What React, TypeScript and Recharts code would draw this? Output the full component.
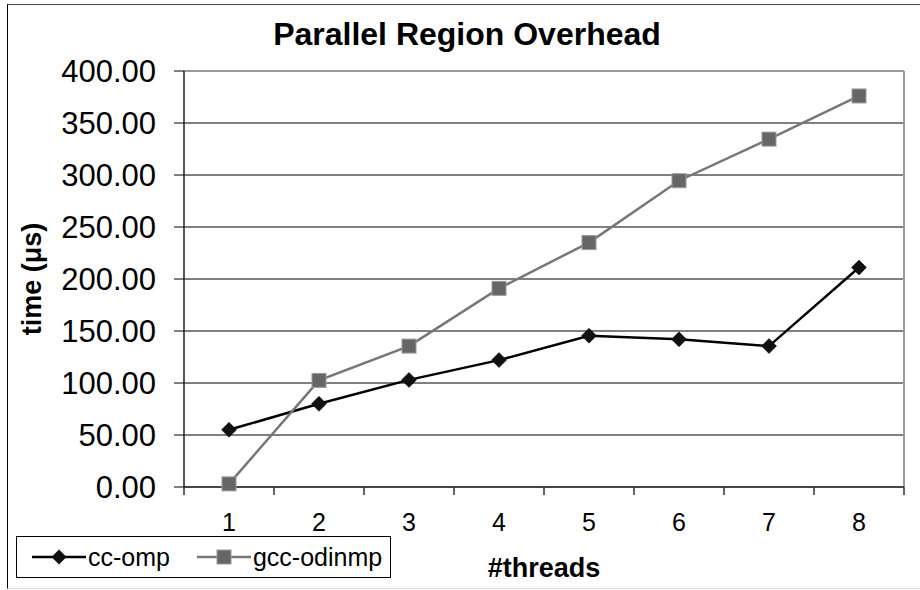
import React from "react";
import {
  LineChart,
  Line,
  XAxis,
  YAxis,
  CartesianGrid,
  ReferenceLine,
  Legend,
  Label,
} from "recharts";

const THREADS = [1, 2, 3, 4, 5, 6, 7, 8];
const CC_OMP = [55, 80, 103, 122, 145.5, 142, 135.5, 211];
const GCC_ODINMP = [3, 102.5, 135.5, 191, 235, 294.5, 334.5, 376];
const Y_TICKS = [0, 50, 100, 150, 200, 250, 300, 350, 400];

const data = THREADS.map((t, i) => ({
  threads: t,
  ccOmp: CC_OMP[i],
  gccOdinmp: GCC_ODINMP[i],
}));

// tick list: category boundaries (tick marks) plus centres (labels)
const xTicks = [THREADS[0] - 0.5];
THREADS.forEach((t) => xTicks.push(t, t + 0.5));

const FONT = "'Liberation Sans', Arial, Helvetica, sans-serif";
const CC_COLOR = "#000000";
const GCC_COLOR = "#777777";

function DiamondDot(props: any) {
  const { cx, cy, index } = props;
  if (cx == null || cy == null) return <g key={index} />;
  const r = 7.5;
  return (
    <path
      key={index}
      d={`M${cx},${cy - r}L${cx + r},${cy}L${cx},${cy + r}L${cx - r},${cy}Z`}
      fill="#111"
      stroke="#000"
      strokeWidth={0.5}
    />
  );
}

function SquareDot(props: any) {
  const { cx, cy, index } = props;
  if (cx == null || cy == null) return <g key={index} />;
  const s = 14;
  return (
    <rect
      key={index}
      x={cx - s / 2}
      y={cy - s / 2}
      width={s}
      height={s}
      fill="#666"
      stroke="#999"
      strokeWidth={1}
    />
  );
}

function ThreadTick(props: any) {
  const { x, y, payload } = props;
  const v = payload.value;
  if (Number.isInteger(v)) {
    return (
      <text x={x} y={y + 44} textAnchor="middle" fontSize={25} fontFamily={FONT} fill="#000">
        {v}
      </text>
    );
  }
  return <line x1={x} x2={x} y1={y} y2={y + 8} stroke="#333" strokeWidth={1.5} />;
}

function LegendBox() {
  const items = [
    { name: "cc-omp", color: CC_COLOR, kind: "diamond" },
    { name: "gcc-odinmp", color: GCC_COLOR, kind: "square" },
  ];
  return (
    <div
      style={{
        border: "1px solid #000",
        background: "#fff",
        display: "flex",
        alignItems: "center",
        height: 40,
        paddingLeft: 15,
        paddingRight: 8,
        fontFamily: FONT,
        fontSize: 25,
        color: "#000",
      }}
    >
      {items.map((it, i) => (
        <div key={it.name} style={{ display: "flex", alignItems: "center", marginLeft: i ? 27 : 0 }}>
          <svg width={54} height={20} style={{ display: "block", marginRight: 2 }}>
            <line x1={0} x2={54} y1={10} y2={10} stroke={it.color} strokeWidth={2.5} />
            {it.kind === "diamond" ? (
              <path d="M27,2.5L34.5,10L27,17.5L19.5,10Z" fill="#111" />
            ) : (
              <rect x={20} y={3} width={14} height={14} fill="#666" stroke="#999" strokeWidth={1} />
            )}
          </svg>
          <span>{it.name}</span>
        </div>
      ))}
    </div>
  );
}

export default function App() {
  return (
    <div style={{ position: "absolute", left: 0, top: 0, width: 920, height: 590, background: "#fff", overflow: "hidden" }}>
      <div
        style={{
          position: "absolute",
          left: 7,
          top: 4,
          width: 940,
          height: 583,
          borderLeft: "1px solid #000",
          borderTop: "1px solid #444",
          borderBottom: "1px solid #ddd",
        }}
      />
      <div
        style={{
          position: "absolute",
          left: 0,
          top: 18,
          width: 934,
          textAlign: "center",
          fontFamily: FONT,
          fontWeight: "bold",
          fontSize: 32,
          lineHeight: "32px",
          color: "#000",
        }}
      >
        Parallel Region Overhead
      </div>
      <div style={{ position: "absolute", left: 0, top: 0 }}>
        <LineChart width={920} height={590} data={data} margin={{ top: 71, right: 16, bottom: 8, left: 0 }}>
          <CartesianGrid vertical={false} stroke="#000" strokeWidth={1} />
          <XAxis
            dataKey="threads"
            type="number"
            domain={[0.5, 8.5]}
            ticks={xTicks}
            interval={0}
            tick={ThreadTick}
            tickLine={false}
            tickSize={0}
            tickMargin={0}
            height={95}
            axisLine={{ stroke: "#333", strokeWidth: 1.5 }}
          >
            <Label
              content={(p: any) => {
                const vb = p.viewBox || { x: 184, y: 487, width: 720, height: 95 };
                return (
                  <text
                    x={vb.x + vb.width / 2}
                    y={vb.y + vb.height - 5}
                    textAnchor="middle"
                    fontFamily={FONT}
                    fontWeight="bold"
                    fontSize={27}
                    fill="#000"
                  >
                    #threads
                  </text>
                );
              }}
            />
          </XAxis>
          <YAxis
            type="number"
            domain={[0, 400]}
            ticks={Y_TICKS}
            interval={0}
            width={184}
            tickSize={10}
            tickMargin={18}
            tickFormatter={(v: number) => v.toFixed(2)}
            tick={{ fontSize: 31, fontFamily: FONT, fill: "#000" }}
            tickLine={{ stroke: "#000" }}
            axisLine={{ stroke: "#222", strokeWidth: 1.5 }}
          >
            <Label
              content={(p: any) => {
                const vb = p.viewBox || { x: 0, y: 71, width: 184, height: 416 };
                const cx = vb.x + 32;
                const cy = vb.y + vb.height / 2;
                return (
                  <text
                    x={cx}
                    y={cy}
                    transform={`rotate(-90 ${cx} ${cy})`}
                    textAnchor="middle"
                    dominantBaseline="central"
                    fontFamily={FONT}
                    fontWeight="bold"
                    fontSize={27}
                    fill="#000"
                  >
                    time (μs)
                  </text>
                );
              }}
            />
          </YAxis>
          <ReferenceLine y={400} stroke="#999" strokeWidth={2} />
          <ReferenceLine x={8.5} stroke="#999" strokeWidth={2} />
          <Legend
            layout="horizontal"
            verticalAlign="middle"
            align="center"
            wrapperStyle={{ left: 16, top: 536, width: "auto", height: "auto" }}
            content={() => <LegendBox />}
          />
          <Line
            type="linear"
            dataKey="ccOmp"
            name="cc-omp"
            stroke={CC_COLOR}
            strokeWidth={2.5}
            dot={DiamondDot}
            activeDot={false}
            isAnimationActive={false}
          />
          <Line
            type="linear"
            dataKey="gccOdinmp"
            name="gcc-odinmp"
            stroke={GCC_COLOR}
            strokeWidth={2.5}
            dot={SquareDot}
            activeDot={false}
            isAnimationActive={false}
          />
        </LineChart>
      </div>
    </div>
  );
}
